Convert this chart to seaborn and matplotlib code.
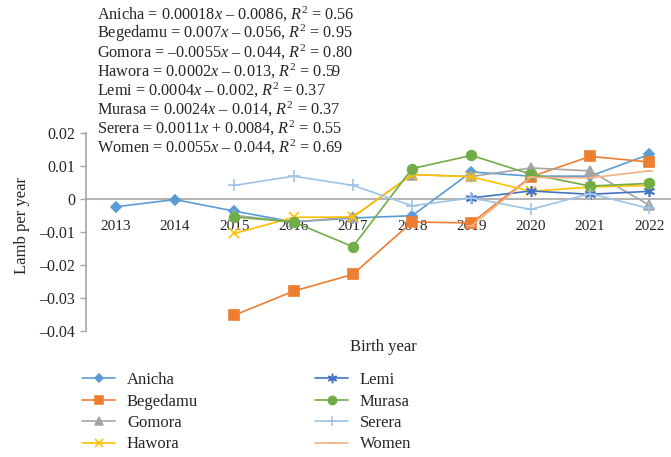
import matplotlib
matplotlib.use("Agg")
import matplotlib.pyplot as plt
import numpy as np
import pandas as pd
import seaborn as sns
from matplotlib.lines import Line2D

sns.set_theme(style="white")
plt.rcParams["font.family"] = ["Liberation Serif", "DejaVu Serif"]
plt.rcParams["mathtext.fontset"] = "custom"
plt.rcParams["mathtext.rm"] = "Liberation Serif"
plt.rcParams["mathtext.it"] = "Liberation Serif:italic"

years = ["2013", "2014", "2015", "2016", "2017", "2018", "2019", "2020", "2021", "2022"]
nan = np.nan
anicha = [-0.0024, -0.0002, -0.0037, -0.0070, -0.0058, -0.0051, 0.0082, 0.0069, 0.0069, 0.0135]
begedamu = [nan, nan, -0.0353, -0.0280, -0.0229, -0.0070, -0.0073, 0.0067, 0.0129, 0.0112]
gomora = [nan, nan, -0.0050, -0.0070, -0.0055, 0.0074, 0.0068, 0.0094, 0.0085, -0.0019]
hawora = [nan, nan, -0.0105, -0.0056, -0.0055, 0.0074, 0.0067, 0.0023, 0.0036, 0.0041]
lemi = [nan, nan, nan, nan, nan, nan, 0.0003, 0.0024, 0.0014, 0.0023]
murasa = [nan, nan, -0.0055, -0.0070, -0.0145, 0.0092, 0.0132, 0.0075, 0.0039, 0.0047]
serera = [nan, nan, 0.0041, 0.0069, 0.0041, -0.0021, 0.0003, -0.0032, 0.0016, -0.0029]
women = [nan, nan, nan, nan, nan, nan, -0.0082, 0.0065, 0.0064, 0.0085]

equations = [
    "Anicha = 0.00018$x$ – 0.0086, $R^2$ = 0.56",
    "Begedamu = 0.007$x$ – 0.056, $R^2$ = 0.95",
    "Gomora = –0.0055$x$ – 0.044, $R^2$ = 0.80",
    "Hawora = 0.0002$x$ – 0.013, $R^2$ = 0.59",
    "Lemi = 0.0004$x$ – 0.002, $R^2$ = 0.37",
    "Murasa = 0.0024$x$ – 0.014, $R^2$ = 0.37",
    "Serera = 0.0011$x$ + 0.0084, $R^2$ = 0.55",
    "Women = 0.0055$x$ – 0.044, $R^2$ = 0.69",
]

series = {
    "Anicha": (anicha, "#5B9BD5", "D", 5),
    "Begedamu": (begedamu, "#ED7D31", "s", 6.5),
    "Gomora": (gomora, "#A5A5A5", "^", 6.5),
    "Hawora": (hawora, "#FFC000", "x", 7),
    "Lemi": (lemi, "#4472C4", (6, 2, 0), 8),
    "Murasa": (murasa, "#70AD47", "o", 7),
    "Serera": (serera, "#9DC3E6", "+", 8),
    "Women": (women, "#F4B183", "_", 6),
}

fig = plt.figure(figsize=(6.71, 4.57), dpi=100)
ax = fig.add_axes([86 / 671, 1 - 330.7 / 457, 585 / 671, 197.7 / 457])

pos = np.arange(len(years))
handles = []
for name, (vals, color, marker, ms) in series.items():
    df = pd.DataFrame({"pos": pos, "value": vals}).dropna()
    sns.lineplot(data=df, x="pos", y="value", color=color, marker=marker, markersize=ms,
                 markeredgecolor=color, markeredgewidth=1.2, linewidth=1.2, ax=ax)
    handles.append(Line2D([], [], color=color, marker=marker, markersize=ms * 0.85,
                          markeredgecolor=color, markeredgewidth=1.1, linewidth=1.2, label=name))

ax.set_xlim(-0.5, 9.365)
ax.set_ylim(-0.04, 0.02)
yt = [0.02, 0.01, 0, -0.01, -0.02, -0.03, -0.04]
ax.set_yticks(yt)
ax.set_yticklabels(["0.02", "0.01", "0", "–0.01", "–0.02", "–0.03", "–0.04"], fontsize=11.5)
ax.set_xticks(pos)
ax.set_xticklabels(years, fontsize=11.5)
ax.set_xticks(np.arange(0.5, 9.5, 1), minor=True)
ax.tick_params(axis="x", which="major", length=0, pad=15)
ax.tick_params(axis="x", which="minor", direction="inout", length=9, width=1, color="#A6A6A6")
ax.tick_params(axis="y", direction="out", length=4, width=1, color="#A6A6A6", pad=4, left=True)

for s in ["top", "right"]:
    ax.spines[s].set_visible(False)
ax.spines["bottom"].set_position(("data", 0))
ax.spines["bottom"].set_zorder(0)
for s in ["bottom", "left"]:
    ax.spines[s].set_color("#A6A6A6")
    ax.spines[s].set_linewidth(1.2)

ax.set_xlabel("")
ax.set_ylabel("Lamb per year", fontsize=12)
ax.yaxis.set_label_coords(-0.095, 0.53)
fig.text(383 / 671, 1 - 347 / 457, "Birth year", ha="center", va="center", fontsize=12)

for i, eq in enumerate(equations):
    fig.text(97 / 671, 1 - (14 + 19 * i) / 457, eq, ha="left", va="center", fontsize=11.7)

fig.legend(handles=handles, loc="upper left", bbox_to_anchor=(82 / 671, 1 - 372 / 457),
           ncol=2, frameon=False, fontsize=12, handlelength=2.0, handletextpad=0.7,
           columnspacing=7.0, labelspacing=0.33, borderpad=0, borderaxespad=0)

fig.savefig("out.png", dpi=100)
